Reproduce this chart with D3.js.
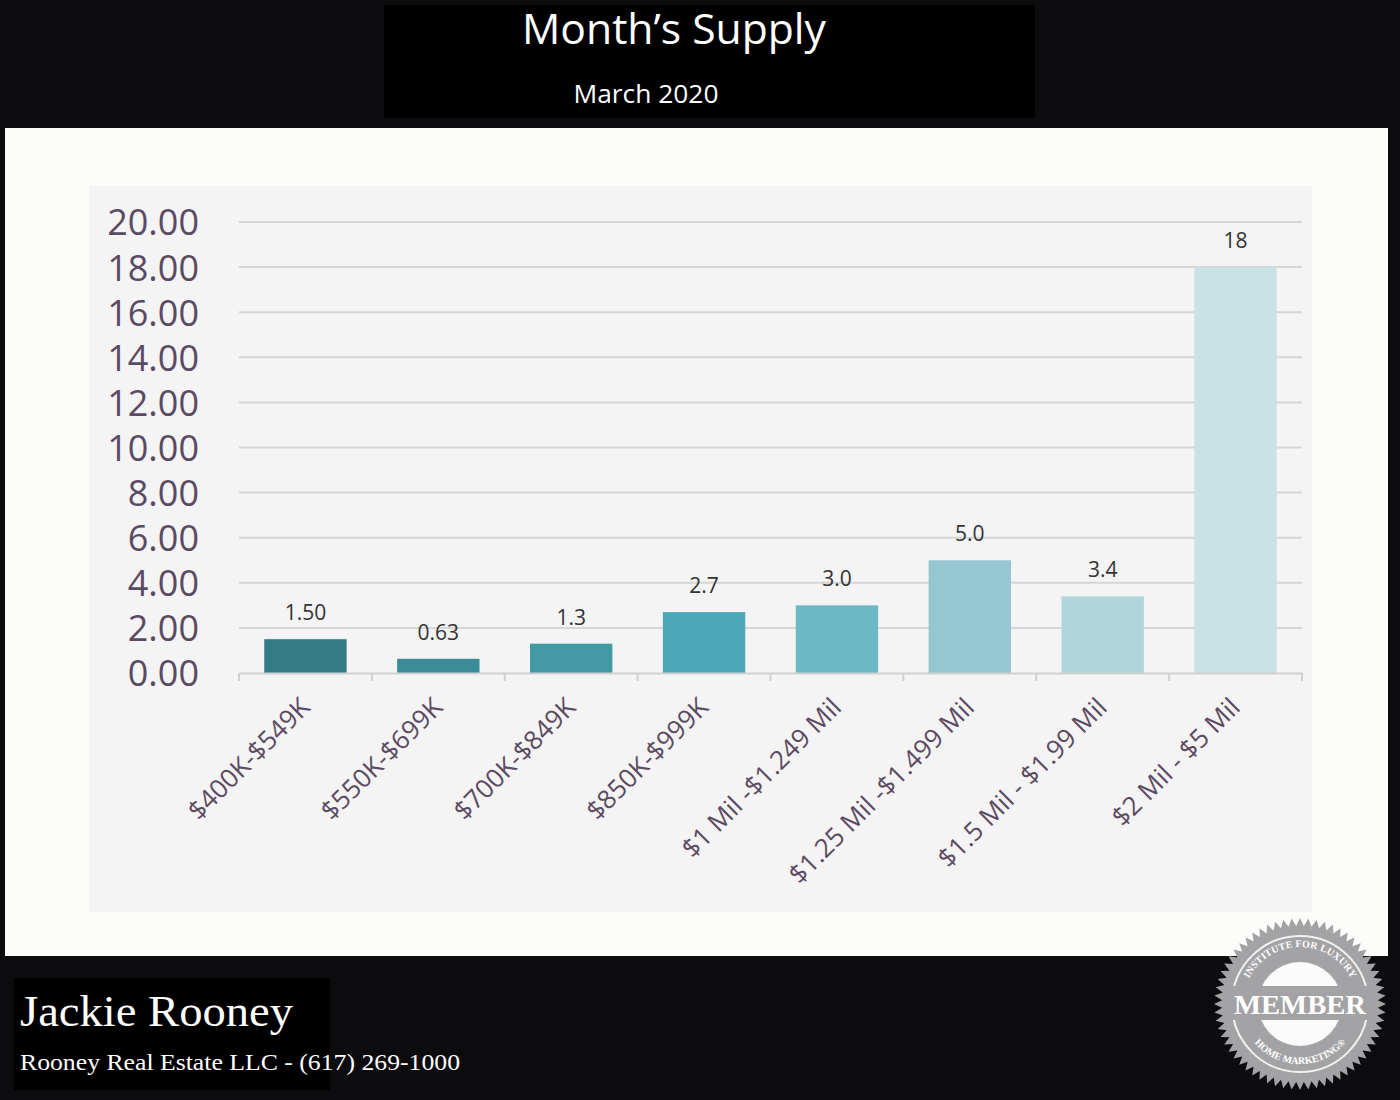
<!DOCTYPE html>
<html lang="en">
<head>
<meta charset="utf-8">
<title>Month's Supply</title>
<script src="https://cdn.jsdelivr.net/npm/d3@7"></script>
<style>
  body { margin: 0px; overflow: hidden; background: #0c0b0d; }
  text { font-family: "Open Sans", sans-serif; }
  .ytick text { font-size: 36px; fill: #5b4a63; }
  .xtick text { font-size: 26px; fill: #5b4a63; }
  .grid line { stroke: #d6d6d6; stroke-width: 2; }
  .bar-label { font-size: 21px; fill: #333333; text-anchor: middle; }
  .badge-text { font-family: "Liberation Serif", serif; font-weight: bold; fill: #fff; }
</style>
</head>
<body>
<script>
// chart data
const categories = ["$400K-$549K", "$550K-$699K", "$700K-$849K", "$850K-$999K",
  "$1 Mil -$1.249 Mil", "$1.25 Mil -$1.499 Mil", "$1.5 Mil - $1.99 Mil", "$2 Mil - $5 Mil"];
const supply = [1.50, 0.63, 1.3, 2.7, 3.0, 5.0, 3.4, 18];
const valueLabels = ["1.50", "0.63", "1.3", "2.7", "3.0", "5.0", "3.4", "18"];
const yTicks = [0, 2, 4, 6, 8, 10, 12, 14, 16, 18, 20];
const barColors = ["#347b85", "#3b8c96", "#4399a4", "#4ca8b8", "#6cb8c4", "#95c7d1", "#b1d5dd", "#c9e2e6"];

const width = 1400, height = 1100;
const svg = d3.select("body").append("svg")
  .attr("width", width).attr("height", height);

// backgrounds
svg.append("rect").attr("width", width).attr("height", height).attr("fill", "#0c0b0d");
svg.append("rect").attr("x", 384).attr("y", 5).attr("width", 651).attr("height", 113).attr("fill", "#000");
svg.append("rect").attr("x", 5).attr("y", 128).attr("width", 1383).attr("height", 828).attr("fill", "#fcfdfb");
svg.append("rect").attr("x", 89).attr("y", 186).attr("width", 1223).attr("height", 726).attr("fill", "#f4f4f4");

// titles
svg.append("text").attr("x", 674).attr("y", 44).attr("text-anchor", "middle")
  .attr("fill", "#fff").style("font-size", "42px")
  .attr("textLength", 304).attr("lengthAdjust", "spacingAndGlyphs")
  .text("Month\u2019s Supply");
svg.append("text").attr("x", 646).attr("y", 103).attr("text-anchor", "middle")
  .attr("fill", "#fff").style("font-size", "26px")
  .attr("textLength", 145).attr("lengthAdjust", "spacingAndGlyphs")
  .text("March 2020");

// scales
const x = d3.scaleBand().domain(categories).range([239, 1302]).paddingInner(0.38).paddingOuter(0.19);
const y = d3.scaleLinear().domain([0, 20]).range([673, 222]);

// gridlines
svg.append("g").attr("class", "grid")
  .selectAll("line").data(yTicks.slice(1)).join("line")
  .attr("x1", 239).attr("x2", 1302)
  .attr("y1", d => y(d)).attr("y2", d => y(d));

// y axis
const yAxisG = svg.append("g").attr("class", "ytick")
  .attr("transform", "translate(239,0)")
  .call(d3.axisLeft(y).tickValues(yTicks).tickFormat(d3.format(".2f")).tickSize(0).tickPadding(40));
yAxisG.select(".domain").remove();
yAxisG.selectAll("text").attr("dy", "0.36em");

// bars
svg.append("g").selectAll("rect").data(supply).join("rect")
  .attr("x", (d, i) => x(categories[i]))
  .attr("y", d => y(d))
  .attr("width", x.bandwidth())
  .attr("height", d => y(0) - y(d))
  .attr("fill", (d, i) => barColors[i]);

// value labels
svg.append("g").selectAll("text").data(supply).join("text")
  .attr("class", "bar-label")
  .attr("x", (d, i) => x(categories[i]) + x.bandwidth() / 2)
  .attr("y", d => y(d) - 19)
  .text((d, i) => valueLabels[i]);

// x axis line and ticks at band edges
const step = x.step();
const edges = d3.range(categories.length + 1).map(i => 239 + i * step);
svg.append("line").attr("x1", 239).attr("x2", 1302).attr("y1", 673.5).attr("y2", 673.5)
  .attr("stroke", "#d0d0d0").attr("stroke-width", 2);
svg.append("g").selectAll("line").data(edges).join("line")
  .attr("x1", d => d).attr("x2", d => d).attr("y1", 673).attr("y2", 681)
  .attr("stroke", "#d0d0d0").attr("stroke-width", 2);

// category labels
svg.append("g").attr("class", "xtick").selectAll("text").data(categories).join("text")
  .attr("text-anchor", "end")
  .attr("transform", d => `translate(${x(d) + x.bandwidth() / 2 + 6},${709}) rotate(-45)`)
  .text(d => d);

// footer
svg.append("rect").attr("x", 14).attr("y", 978).attr("width", 316).attr("height", 112).attr("fill", "#000");
svg.append("text").attr("x", 20).attr("y", 1026).attr("fill", "#fff")
  .style("font-family", "'Liberation Serif', serif").style("font-size", "44px")
  .attr("textLength", 273).attr("lengthAdjust", "spacingAndGlyphs")
  .text("Jackie Rooney");
svg.append("text").attr("x", 20).attr("y", 1070).attr("fill", "#fff")
  .style("font-family", "'Liberation Serif', serif").style("font-size", "24px")
  .attr("textLength", 440).attr("lengthAdjust", "spacingAndGlyphs")
  .text("Rooney Real Estate LLC - (617) 269-1000");

// member badge
const bx = 1300, by = 1004;
const badge = svg.append("g").attr("transform", `translate(${bx},${by})`);
const teeth = 64;
const gearPts = d3.range(teeth * 2).map(i => {
  const a = i * Math.PI / teeth;
  const r = i % 2 === 0 ? 86 : 78;
  return [r * Math.sin(a), -r * Math.cos(a)];
});
badge.append("path").attr("d", d3.line()(gearPts) + "Z").attr("fill", "#a3a3a5");
badge.append("circle").attr("r", 68).attr("fill", "none").attr("stroke", "#f2f2f2").attr("stroke-width", 2);
badge.append("circle").attr("r", 42).attr("fill", "#fbfbfb");
badge.append("rect").attr("x", -70).attr("y", -18).attr("width", 140).attr("height", 34).attr("fill", "#a3a3a5");
badge.append("text").attr("class", "badge-text").attr("y", 10).attr("text-anchor", "middle")
  .style("font-size", "27px")
  .attr("textLength", 132).attr("lengthAdjust", "spacingAndGlyphs")
  .text("MEMBER");
const defs = svg.append("defs");
defs.append("path").attr("id", "arcTop").attr("d", "M -57 0 A 57 57 0 0 1 57 0");
defs.append("path").attr("id", "arcBot").attr("d", "M -60 0 A 60 60 0 0 0 60 0");
badge.append("text").attr("class", "badge-text").style("font-size", "10px")
  .append("textPath").attr("href", "#arcTop").attr("startOffset", "50%").attr("text-anchor", "middle")
  .attr("textLength", 126).attr("lengthAdjust", "spacing")
  .text("INSTITUTE FOR LUXURY");
badge.append("text").attr("class", "badge-text").style("font-size", "10px")
  .append("textPath").attr("href", "#arcBot").attr("startOffset", "50%").attr("text-anchor", "middle")
  .attr("textLength", 104).attr("lengthAdjust", "spacing")
  .text("HOME MARKETING\u00AE");
</script>
</body>
</html>
